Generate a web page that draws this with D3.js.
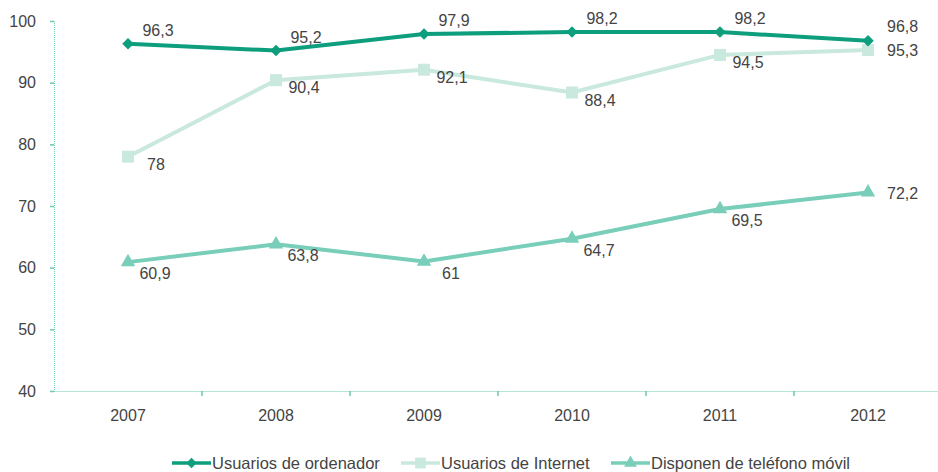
<!DOCTYPE html>
<html><head><meta charset="utf-8">
<script src="https://cdn.jsdelivr.net/npm/d3@7"></script>
<style>body{margin:0;background:#fff}text{font-family:"Liberation Sans",Arial,sans-serif}</style>
</head><body><svg id="c" width="938" height="472"></svg>
<script>
const years = ["2007","2008","2009","2010","2011","2012"];
const ordenador = [96.3,95.2,97.9,98.2,98.2,96.8];
const internet = [78,90.4,92.1,88.4,94.5,95.3];
const movil = [60.9,63.8,61,64.7,69.5,72.2];
const seriesNames = ["Usuarios de ordenador","Usuarios de Internet","Disponen de teléfono móvil"];
const yTicks = [40,50,60,70,80,90,100];

const svg = d3.select("#c");
const x = d3.scaleBand().domain(years).range([54, 942]);
const y = d3.scaleLinear().domain([40,100]).range([391, 21]);
const axisColor = "#6cc9b2";
const textColor = "#444";

// y axis
const ya = svg.append("g").attr("transform","translate(54,0)")
  .call(d3.axisLeft(y).tickValues(yTicks).tickSize(4).tickPadding(14));
ya.select(".domain").attr("stroke",axisColor).attr("stroke-dasharray","1,1");
ya.selectAll(".tick line").attr("stroke",axisColor).attr("stroke-width",1.5);
ya.selectAll("text").attr("fill",textColor).style("font-size","16px");

// x axis
const xa = svg.append("g").attr("transform","translate(0,391)")
  .call(d3.axisBottom(x).tickSize(0).tickPadding(19));
xa.select(".domain").attr("stroke",axisColor).attr("stroke-dasharray","1,1");
xa.selectAll("text").attr("fill",textColor).style("font-size","16px");
svg.append("g").selectAll("line").data(years.slice(1)).join("line")
  .attr("x1",d=>x(d)).attr("x2",d=>x(d)).attr("y1",391).attr("y2",396)
  .attr("stroke",axisColor).attr("stroke-width",1.5);

const cx = d => x(d) + x.bandwidth()/2;
const diamond = {draw(ctx,size){const r=Math.sqrt(size)/2*1.15;ctx.moveTo(0,-r);ctx.lineTo(r,0);ctx.lineTo(0,r);ctx.lineTo(-r,0);ctx.closePath();}};
const series = [
  {name:seriesNames[0], vals:ordenador, color:"#0d9e7d", sym:diamond, size:100,
   lab:(i)=> i===5 ? [19,-9,"start"] : [30,-8,"middle"]},
  {name:seriesNames[1], vals:internet, color:"#c9e8de", sym:d3.symbolSquare, size:144,
   lab:(i)=> i===5 ? [19,6,"start"] : [28,13,"middle"]},
  {name:seriesNames[2], vals:movil, color:"#78ceb9", sym:d3.symbolTriangle, size:90,
   lab:(i)=> i===5 ? [19,6.5,"start"] : [27,17,"middle"]}
];
const line = d3.line().x((d,i)=>cx(years[i])).y(d=>y(d));
[2,1,0].forEach(si=>{
  const s = series[si];
  const g = svg.append("g");
  g.append("path").datum(s.vals).attr("d",line).attr("fill","none")
    .attr("stroke",s.color).attr("stroke-width",4);
  g.selectAll("path.m").data(s.vals).join("path").attr("class","m")
    .attr("transform",(d,i)=>`translate(${cx(years[i])},${y(d)})`)
    .attr("d",d3.symbol().type(s.sym).size(s.size)).attr("fill",s.color);
});
series.forEach(s=>{
  svg.append("g").selectAll("text").data(s.vals).join("text")
    .attr("x",(d,i)=>cx(years[i])+s.lab(i)[0])
    .attr("y",(d,i)=>y(d)+s.lab(i)[1])
    .attr("text-anchor",(d,i)=>s.lab(i)[2])
    .attr("fill",textColor).style("font-size","16px")
    .text(d=>String(d).replace(".",","));
});

// legend
const legX = [172, 401, 611];
series.forEach((s,i)=>{
  const g = svg.append("g").attr("transform",`translate(${legX[i]},463)`);
  g.append("line").attr("x1",0).attr("x2",39).attr("stroke",s.color).attr("stroke-width",3.5);
  g.append("path").attr("transform","translate(19.5,0)")
    .attr("d",d3.symbol().type(s.sym).size(s.size*0.8)).attr("fill",s.color);
  g.append("text").attr("x",40).attr("y",6).attr("fill",textColor)
    .style("font-size","16.5px").text(s.name);
});
</script></body></html>
